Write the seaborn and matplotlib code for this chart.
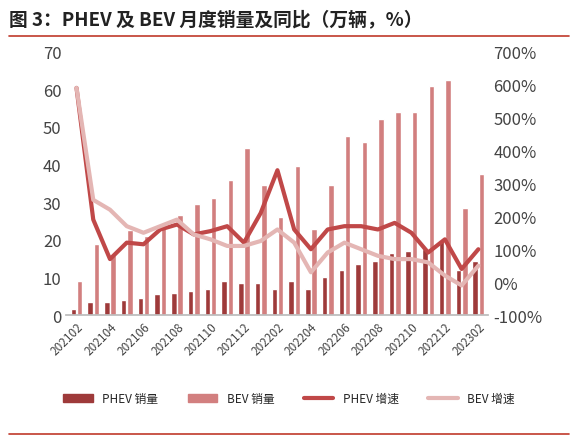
import matplotlib
matplotlib.use("Agg")
import matplotlib.pyplot as plt
import seaborn as sns
import pandas as pd
import numpy as np
from matplotlib.lines import Line2D
from matplotlib.patches import Patch

months = ["202102","202103","202104","202105","202106","202107","202108","202109","202110","202111","202112",
          "202201","202202","202203","202204","202205","202206","202207","202208","202209","202210","202211","202212",
          "202301","202302"]
phev = [1.5,3.5,3.5,4,4.5,5.5,6,6.5,7,9,8.5,8.5,7,9,7,10,12,13.5,14.5,16.5,17,17.5,20,12,14.5]
bev = [9,19,16,22.5,21,23.5,26.5,29.5,31,36,44.5,34.5,26,39.5,23,34.5,47.5,46,52,54,54,61,62.5,28.5,37.5]
phev_g = [590,190,70,120,115,160,175,145,155,170,120,210,340,160,100,160,170,170,160,180,150,90,130,40,100]
bev_g = [590,250,220,170,150,170,190,145,130,110,110,125,160,120,30,90,120,100,80,70,70,60,20,-10,50]

sns.set_theme(style="white")
plt.rcParams['font.family'] = ['Noto Sans CJK SC', 'DejaVu Sans']
c1, c2, c3, c4 = "#9e3a3a", "#d27f7f", "#c04848", "#e4b6b4"

fig = plt.figure(figsize=(5.78, 4.39), dpi=100)
fig.text(0.015, 0.955, "图 3：PHEV 及 BEV 月度销量及同比（万辆，%）", fontsize=13.5, fontweight="bold", color="#222222", va="center")
fig.add_artist(Line2D([0.015, 0.985], [0.915, 0.915], color="#c0392b", lw=1.2))
fig.add_artist(Line2D([0.015, 0.985], [0.01, 0.01], color="#c0392b", lw=1.2))

ax = fig.add_axes([0.115, 0.28, 0.73, 0.6])
df = pd.DataFrame({"m": months * 2, "v": phev + bev, "s": ["PHEV 销量"] * 25 + ["BEV 销量"] * 25})
sns.barplot(data=df, x="m", y="v", hue="s", palette=[c1, c2], ax=ax, width=0.75, gap=0.12,
            saturation=1, legend=False)
ax.set_ylim(0, 70)
ax.set_yticks(range(0, 71, 10))
ax.set_xlim(-0.6, 24.6)
ax.set_xlabel(""); ax.set_ylabel("")
ax.set_xticks(range(0, 25, 2))
ax.set_xticklabels(months[::2], rotation=45, ha="right", rotation_mode="anchor", fontsize=8.5, color="#444444")
ax.tick_params(axis="y", labelsize=12, colors="#444444", length=0)
ax.tick_params(axis="x", length=0)
for s in ["top", "right", "left"]:
    ax.spines[s].set_visible(False)
ax.spines["bottom"].set_color("#bbbbbb")

ax2 = ax.twinx()
x = np.arange(25)
sns.lineplot(x=x, y=phev_g, ax=ax2, color=c3, lw=3)
sns.lineplot(x=x, y=bev_g, ax=ax2, color=c4, lw=3)
ax2.set_ylim(-100, 700)
ax2.set_yticks(range(-100, 701, 100))
ax2.set_yticklabels([f"{v}%" for v in range(-100, 701, 100)])
ax2.tick_params(axis="y", labelsize=12, colors="#444444", length=0)
for s in ["top", "right", "left", "bottom"]:
    ax2.spines[s].set_visible(False)
ax2.grid(False)

handles = [Patch(color=c1), Patch(color=c2), Line2D([], [], color=c3, lw=3), Line2D([], [], color=c4, lw=3)]
fig.legend(handles, ["PHEV 销量", "BEV 销量", "PHEV 增速", "BEV 增速"], loc="center", bbox_to_anchor=(0.5, 0.09),
           ncol=4, frameon=False, fontsize=8.5, handlelength=2.5, columnspacing=2.5)
fig.savefig("out.png", dpi=100)
